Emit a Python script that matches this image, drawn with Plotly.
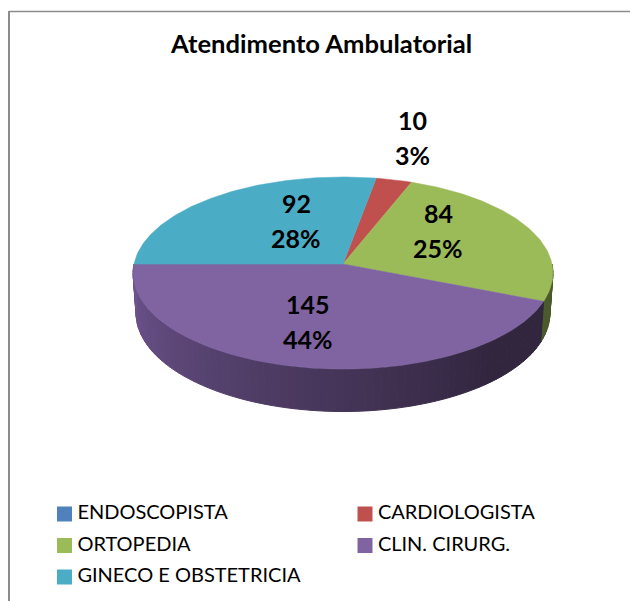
import math
import plotly.graph_objects as go

# Data
categories = ["ENDOSCOPISTA", "CARDIOLOGISTA", "ORTOPEDIA", "CLIN. CIRURG.", "GINECO E OBSTETRICIA"]
values = [0, 10, 84, 145, 92]
percent_labels = ["", "3%", "25%", "44%", "28%"]
colors = ["#4F81BD", "#C0504D", "#9BBB59", "#8064A2", "#4BACC6"]
side_light = ["#46709f", "#a5443f", "#55692c", "#6f5590", "#3f93a9"]
side_dark = ["#2a3f5c", "#5c2624", "#4a5a2a", "#32263f", "#245361"]

title_text = "Atendimento Ambulatorial"
FONT = "Lato, Carlito, Calibri, sans-serif"

WIN_W, WIN_H = 630, 601

# Geometry of the tilted disc, in window pixels
CX, CY, R, RY, K = 343, 264, 209, 95.2, 0.094
CYB, RB, RYB = 304, 206, 97.4
START = 80.0  # direction of first slice, degrees


def top(a):
    u, v = math.cos(math.radians(a)), math.sin(math.radians(a))
    s = 1 + K * v
    return CX + R * u / s, CY - RY * v / s


def bottom(a):
    u, v = math.cos(math.radians(a)), math.sin(math.radians(a))
    s = 1 + K * v
    return CX + RB * u / s, CYB - RYB * v / s


def mix(c1, c2, t):
    a = [int(c1[i:i + 2], 16) for i in (1, 3, 5)]
    b = [int(c2[i:i + 2], 16) for i in (1, 3, 5)]
    return "#%02x%02x%02x" % tuple(round(a[i] + (b[i] - a[i]) * t) for i in range(3))


total = sum(values)
fig = go.Figure()

# Slice spans, clockwise from START
spans = []
ang = START
for v in values:
    sweep = v / total * 360
    spans.append((ang, ang - sweep))
    ang -= sweep

# Side wall: narrow quads for the front half (angles between 0 and -180)
STEP = 2.0
for i, (a0, a1) in enumerate(spans):
    hi, lo = min(a0, 0.0), max(a1, -180.0)
    if hi - lo < 0.5:
        continue
    a = hi
    while a > lo:
        b = max(a - STEP, lo)
        mid = (a + b) / 2
        t = max(0.0, min(1.0, (180 + mid) / 130))  # 0 far left, 1 past the front
        col = mix(side_light[i], side_dark[i], t)
        pts = [top(a), top(b), bottom(b), bottom(a), top(a)]
        fig.add_trace(go.Scatter(x=[p[0] for p in pts], y=[p[1] for p in pts], mode="lines",
                                 fill="toself", fillcolor=col, line=dict(color=col, width=1),
                                 hoverinfo="skip", showlegend=False))
        a = b

# Top faces
for i, (a0, a1) in enumerate(spans):
    if values[i] == 0:
        continue
    n = max(2, int(abs(a0 - a1)))
    pts = [top(a0 + (a1 - a0) * j / n) for j in range(n + 1)]
    xs = [CX] + [p[0] for p in pts] + [CX]
    ys = [CY] + [p[1] for p in pts] + [CY]
    fig.add_trace(go.Scatter(x=xs, y=ys, mode="lines", fill="toself", fillcolor=colors[i],
                             line=dict(color=colors[i], width=0.5), name=categories[i],
                             hoverinfo="skip", showlegend=False))

# Data labels: value and percent, placed per slice
label_xy = [None, (412, 137), (438, 230), (308, 321.5), (296, 220)]
LABEL_GAP = 17.5
for i, xy in enumerate(label_xy):
    if xy is None:
        continue
    fig.add_annotation(x=xy[0], y=xy[1] - LABEL_GAP, text=str(values[i]), showarrow=False,
                       font=dict(family=FONT, size=25, color="#000000", weight="bold"))
    fig.add_annotation(x=xy[0], y=xy[1] + LABEL_GAP, text=percent_labels[i], showarrow=False,
                       font=dict(family=FONT, size=25, color="#000000", weight="bold"))

# Legend, two columns
legend_x = [64.5, 365, 64.5, 365, 64.5]
legend_y = [514, 514, 545.5, 545.5, 577]
for i in range(len(categories)):
    fig.add_trace(go.Scatter(x=[legend_x[i]], y=[legend_y[i]], mode="markers+text",
                             marker=dict(symbol="square", size=15, color=colors[i]),
                             text=["\u2009" + categories[i]], textposition="middle right",
                             textfont=dict(family=FONT, size=20, color="#000000"),
                             hoverinfo="skip", showlegend=False, cliponaxis=False))

fig.add_annotation(x=321, y=43, text=title_text, showarrow=False,
                   font=dict(family=FONT, size=25.6, color="#000000", weight="bold"))

# Chart frame
fig.add_shape(type="line", x0=9, x1=9, y0=11, y1=WIN_H, line=dict(color="#8c8c8c", width=2))
fig.add_shape(type="line", x0=9, x1=WIN_W, y0=11.5, y1=11.5, line=dict(color="#8c8c8c", width=1.5))

fig.update_layout(
    width=WIN_W, height=WIN_H, margin=dict(l=0, r=0, t=0, b=0), showlegend=False,
    paper_bgcolor="#ffffff", plot_bgcolor="#ffffff",
    xaxis=dict(range=[0, WIN_W], visible=False, fixedrange=True),
    yaxis=dict(range=[WIN_H, 0], visible=False, fixedrange=True),
)
fig.write_html(
    "out.html",
    config={"displayModeBar": False},
    post_script="document.body.style.margin='0';document.documentElement.style.overflow='hidden';",
)
